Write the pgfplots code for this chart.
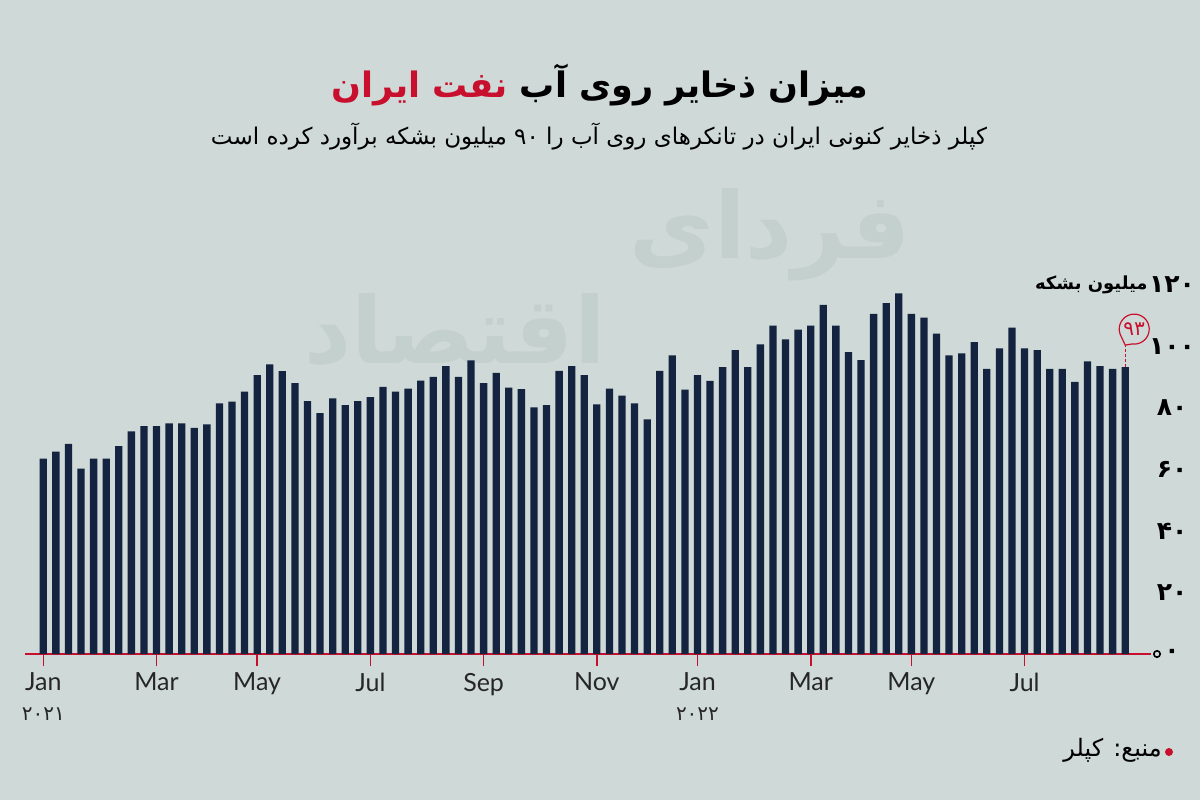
\documentclass[border=0pt]{standalone}
\usepackage{pgfplots}
\pgfplotsset{compat=1.18}
\usepackage{fontspec}
\setmainfont{Lato}
\newfontfamily\fa[Script=Arabic]{DejaVu Sans}
\TeXXeTstate=1
\definecolor{bg}{RGB}{207,217,215}
\definecolor{navy}{RGB}{19,35,64}
\definecolor{accent}{RGB}{200,16,46}
\definecolor{wm}{RGB}{196,208,205}
\begin{document}
\begin{tikzpicture}[x=0.5pt,y=0.5pt]
\fill[bg] (0,0) rectangle (1200,800);
\useasboundingbox (0,0) rectangle (1200,800);
% watermark (two words, placed diagonally)
\node[text=wm, font=\fa\bfseries\fontsize{46}{50}\selectfont, inner sep=0pt] at (770,800-235) {\beginR فردای\endR};
\node[text=wm, font=\fa\bfseries\fontsize{46}{50}\selectfont, inner sep=0pt] at (455,800-330) {\beginR اقتصاد\endR};
% title
\node[anchor=base, font=\fa\bfseries\fontsize{17.5}{21}\selectfont] at (600,800-97)
  {{\color{accent}\beginR نفت ایران\endR}\ \beginR میزان ذخایر روی آب\endR};
\node[anchor=base, font=\fa\fontsize{11.5}{14}\selectfont] at (599,800-145)
  {\beginR کپلر ذخایر کنونی ایران در تانکرهای روی آب را ۹۰ میلیون بشکه برآورد کرده است\endR};
% source
\fill[accent] (1169,800-752) circle[radius=4];
\node[anchor=east, font=\fa\fontsize{12}{14}\selectfont, inner sep=0pt] at (1162,800-750) {\beginR منبع: کپلر\endR};

\begin{axis}[
  at={(12.5pt,73pt)}, anchor=south west,
  scale only axis, width=563pt, height=184.5pt,
  xmin=-1.455, xmax=88.05, ymin=0, ymax=120,
  clip=false,
  ybar, bar width=3.65pt,
  axis x line=bottom, axis y line=right,
  x axis line style={accent, line width=1pt, -},
  y axis line style={draw=none},
  xtick={0,9,17,26,35,44,52,61,69,78},
  xticklabels={{Jan\\{\fa\fontsize{10}{12}\selectfont ۲۰۲۱}},Mar,May,Jul,Sep,Nov,{Jan\\{\fa\fontsize{10}{12}\selectfont ۲۰۲۲}},Mar,May,Jul},
  xtick align=outside,
  x tick style={accent, line width=0.8pt},
  major tick length=6pt,
  xticklabel style={align=center, font=\fontsize{12.5}{15}\selectfont, text=black!85},
  ytick={0,20,40,60,80,100,120},
  yticklabels={۰,۲۰,۴۰,۶۰,۸۰,۱۰۰,۱۲۰},
  y tick style={draw=none},
  yticklabel style={font=\fa\bfseries\fontsize{12.5}{14}\selectfont, anchor=center, xshift=7.5pt},
]
\addplot[fill=navy, draw=none] coordinates {
(0,63.5) (1,65.8) (2,68.3) (3,60.3) (4,63.5) (5,63.5) (6,67.6) (7,72.4) (8,74.1) (9,74.1)
(10,75.0) (11,75.0) (12,73.5) (13,74.7) (14,81.5) (15,82.1) (16,85.3) (17,90.7) (18,94.2) (19,92.0)
(20,88.1) (21,82.2) (22,78.3) (23,83.1) (24,80.9) (25,82.2) (26,83.5) (27,86.9) (28,85.3) (29,86.3)
(30,88.9) (31,90.1) (32,93.6) (33,90.1) (34,95.5) (35,88.1) (36,91.4) (37,86.6) (38,86.1) (39,80.2)
(40,80.9) (41,92.1) (42,93.6) (43,90.7) (44,81.2) (45,86.3) (46,84.0) (47,81.5) (48,76.3) (49,92.1)
(50,97.1) (51,86.0) (52,90.7) (53,88.8) (54,93.3) (55,98.8) (56,93.3) (57,100.7) (58,106.8) (59,102.3)
(60,105.5) (61,106.8) (62,113.5) (63,106.8) (64,98.2) (65,95.6) (66,110.6) (67,114.1) (68,117.3) (69,110.6)
(70,109.4) (71,104.2) (72,97.1) (73,97.8) (74,101.4) (75,92.7) (76,99.4) (77,106.1) (78,99.4) (79,98.8)
(80,92.7) (81,92.7) (82,88.5) (83,95.2) (84,93.6) (85,92.7) (86,93.3)
};
% unit label
\node[anchor=east, inner sep=0pt, font=\fa\bfseries\fontsize{9}{10}\selectfont] at ([xshift=-1.5pt]rel axis cs:1,1) {\beginR میلیون بشکه\endR};
% end circle
\draw[black, line width=0.8pt] ([xshift=3pt]rel axis cs:1,0) circle[radius=1.6pt];
% annotation
\coordinate (top) at (axis cs:86,93.3);
\coordinate (tip) at ([yshift=11pt]axis cs:86,93.3);
\coordinate (bc) at ([xshift=4.5pt,yshift=19pt]axis cs:86,93.3);
\draw[accent, line width=0.6pt, dash pattern=on 1.5pt off 1pt] (top) -- (tip);
\draw[accent, line width=0.6pt, fill=bg] (bc) ++(262:7.5pt) arc[start angle=262, end angle=560, radius=7.5pt] -- (tip) -- cycle;
\node[text=accent, font=\fa\fontsize{10}{12}\selectfont, inner sep=0pt] at (bc) {۹۳};
\end{axis}
\end{tikzpicture}
\end{document}
